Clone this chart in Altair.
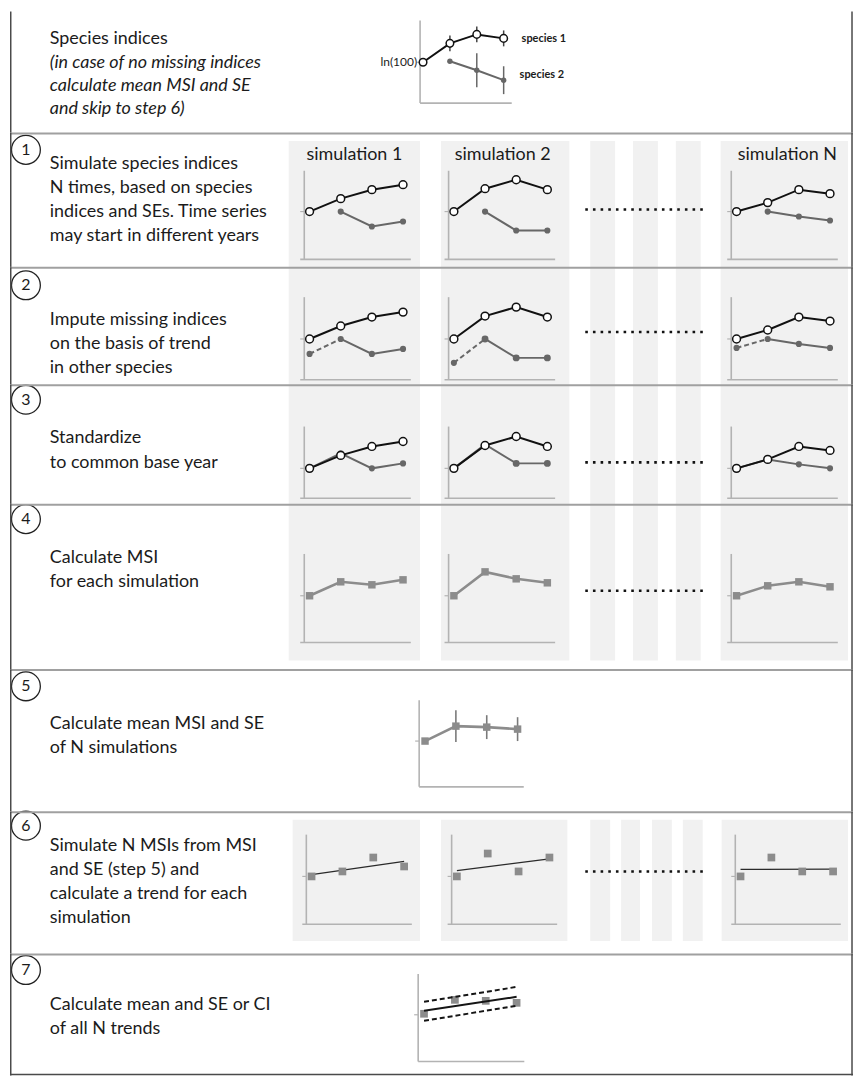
import altair as alt
import pandas as pd

FONT = "Lato"
TXT = "#1b1b1b"
SEP = "#a0a0a0"
FRAME = "#4a4a4a"
BG = "#f1f1f1"
AX = "#b3b3b3"
SP1 = "#111111"
SP2 = "#676767"
MSI = "#8c8c8c"

# ---------------- data (ln(100) = 100) ----------------
YEARS = [0, 1, 2, 3]
HDR_SP1 = [100, 119, 128, 124]
HDR_SP1_SE = [0, 8, 8, 8]
HDR_SP2_YEARS = [1, 2, 3]
HDR_SP2 = [101, 92, 82]
HDR_SP2_SE = [0, 17, 14]

SIMS = ["1", "2", "N"]
SIM_SP1 = {"1": [100, 113, 122, 127], "2": [100, 123, 132, 122], "N": [100, 109, 122, 118]}
SP2_YEARS = [1, 2, 3]
SIM_SP2 = {"1": [100, 85, 90], "2": [100, 81, 81], "N": [100, 95, 91]}
IMPUTED_SP2 = {"1": 85, "2": 76, "N": 91}
STD_SP2 = {"1": [100, 115, 100, 105], "2": [100, 124, 105, 105], "N": [100, 109, 104, 100]}
MSI_SIM = {"1": [100, 114, 111, 116], "2": [100, 124, 117, 113], "N": [100, 110, 114, 109]}
MEAN_MSI = [100, 115, 114, 112]
MEAN_MSI_SE = [0, 16, 12, 12]
SIM_MSI = {"1": [100, 105, 119, 110], "2": [100, 123, 105, 119], "N": [100, 119, 105, 105]}
FINAL_MSI = [101, 115, 114, 112]
TREND_YEARS = [0, 3]
TREND_MEAN = [104, 118]
TREND_UPPER = [113, 128]
TREND_LOWER = [94, 109]

HEADER_TEXT = ["Species indices", "(in case of no missing indices",
               "calculate mean MSI and SE", "and skip to step 6)"]
STEP_TEXT = {
    1: ["Simulate species indices", "N times, based on species",
        "indices and SEs. Time series", "may start in different years"],
    2: ["Impute missing indices", "on the basis of trend", "in other species"],
    3: ["Standardize", "to common base year"],
    4: ["Calculate MSI", "for each simulation"],
    5: ["Calculate mean MSI and SE", "of N simulations"],
    6: ["Simulate N MSIs from MSI", "and SE (step 5) and",
        "calculate a trend for each", "simulation"],
    7: ["Calculate mean and SE or CI", "of all N trends"],
}
SIM_TITLES = {"1": "simulation 1", "2": "simulation 2", "N": "simulation N"}
SPECIES_LABELS = ["species 1", "species 2"]
LN_LABEL = "ln(100)"

# ---------------- layout (page pixel geometry) ----------------
SEPS = [130, 265, 383, 503, 669, 812, 955]
BOTTOM = 1077
LEFT, RIGHT = 8, 855
CIRCLE_Y = {1: 147, 2: 283, 3: 398, 4: 518, 5: 686, 6: 826, 7: 971}
TEXT_Y = {1: 161, 2: 318, 3: 437, 4: 557, 5: 724, 6: 846, 7: 1006}
LINE_H = 24.2
FS = 18

DUMMY = pd.DataFrame({"d": [0]})


def prule(x1, x2, y1, y2, color, w, dash=None):
    kw = dict(color=color, strokeWidth=w)
    if dash:
        kw["strokeDash"] = dash
    return alt.Chart(DUMMY).mark_rule(**kw).encode(
        x=alt.value(x1), x2=alt.value(x2), y=alt.value(y1), y2=alt.value(y2))


def prect(x1, x2, y1, y2, color):
    return alt.Chart(DUMMY).mark_rect(color=color).encode(
        x=alt.value(x1), x2=alt.value(x2), y=alt.value(y1), y2=alt.value(y2))


def ptext(x, y, s, size=FS, align="left", italic=False, bold=False, color=TXT):
    kw = dict(font=FONT, fontSize=size, align=align, baseline="middle", color=color)
    if italic:
        kw["fontStyle"] = "italic"
    if bold:
        kw["fontWeight"] = "bold"
    return alt.Chart(DUMMY).mark_text(**kw).encode(
        x=alt.value(x), y=alt.value(y), text=alt.value(s))


def XE(xs, f="t"):
    return alt.X(f"{f}:Q", scale=xs, axis=None)


def YE(ys, f="v"):
    return alt.Y(f"{f}:Q", scale=ys, axis=None)


class Row:
    def __init__(self, T, B):
        self.ox, self.oy, self.w, self.h = LEFT, T, RIGHT - LEFT, B - T
        self.layers = []

    def rule(self, x1, x2, y1, y2, color, w, dash=None):
        self.layers.append(prule(x1 - self.ox, x2 - self.ox, y1 - self.oy, y2 - self.oy, color, w, dash))

    def rect(self, x1, x2, y1, y2, color=BG):
        y1 = max(y1, self.oy)
        y2 = min(y2, self.oy + self.h)
        if y2 > y1:
            self.layers.append(prect(x1 - self.ox, x2 - self.ox, y1 - self.oy, y2 - self.oy, color))

    def text(self, x, y, s, **kw):
        self.layers.append(ptext(x - self.ox, y - self.oy, s, **kw))

    def circle(self, x, y, d):
        self.layers.append(alt.Chart(DUMMY).mark_point(
            shape="circle", size=d * d, filled=False, color="#222222", strokeWidth=1.3, opacity=1
        ).encode(x=alt.value(x - self.ox), y=alt.value(y - self.oy)))

    def panel(self, x0, dx, base, vtop, vbot, builders, t_axis=-0.17, t_left=-0.3, t_right=3.25):
        # scales map the years / index values onto this panel's place in the row
        xs = alt.Scale(domain=[(self.ox - x0) / dx, (self.ox + self.w - x0) / dx], nice=False, zero=False)
        ys = alt.Scale(domain=[100 - (self.oy + self.h - base), 100 + (base - self.oy)], nice=False, zero=False)
        pl = [
            alt.Chart(pd.DataFrame({"t": [t_axis], "v": [vbot], "v2": [vtop]}))
            .mark_rule(color=AX, strokeWidth=1.6).encode(x=XE(xs), y=YE(ys), y2="v2:Q"),
            alt.Chart(pd.DataFrame({"t": [t_left], "t2": [t_right], "v": [vbot]}))
            .mark_rule(color=AX, strokeWidth=1.6).encode(x=XE(xs), x2="t2:Q", y=YE(ys)),
            alt.Chart(pd.DataFrame({"t": [t_axis - 0.13], "t2": [t_axis], "v": [100]}))
            .mark_rule(color=AX, strokeWidth=1.2).encode(x=XE(xs), x2="t2:Q", y=YE(ys)),
        ]
        for b in builders:
            pl += b(xs, ys)
        self.layers.append(alt.layer(*pl))

    def chart(self, sep=True, bottom=False):
        if sep:
            self.layers.append(prule(0, self.w, 0.5, 0.5, SEP, 2))
        if bottom:
            self.layers.append(prule(0, self.w, self.h - 1, self.h - 1, FRAME, 1.5))
        self.layers.append(prule(0.75, 0.75, 0, self.h, FRAME, 1.5))
        self.layers.append(prule(self.w - 1, self.w - 1, 0, self.h, FRAME, 1.5))
        return alt.layer(*self.layers).resolve_scale(x="independent", y="independent").properties(
            width=self.w, height=self.h)


# ---------------- series builders ----------------
def sp1(years, vals, size=62):
    def b(xs, ys):
        df = pd.DataFrame({"t": years, "v": vals})
        return [alt.Chart(df).mark_line(color=SP1, strokeWidth=2).encode(x=XE(xs), y=YE(ys)),
                alt.Chart(df).mark_point(shape="circle", filled=True, fill="white", stroke=SP1,
                                         strokeWidth=1.5, size=size, opacity=1).encode(x=XE(xs), y=YE(ys))]
    return b


def sp2(years, vals, size=38, color=SP2):
    def b(xs, ys):
        df = pd.DataFrame({"t": years, "v": vals})
        return [alt.Chart(df).mark_line(color=color, strokeWidth=2).encode(x=XE(xs), y=YE(ys)),
                alt.Chart(df).mark_circle(color=color, size=size, opacity=1).encode(x=XE(xs), y=YE(ys))]
    return b


def imputed(year0, v0, year1, v1, size=38):
    def b(xs, ys):
        df = pd.DataFrame({"t": [year0, year1], "v": [v0, v1]})
        dp = pd.DataFrame({"t": [year0], "v": [v0]})
        return [alt.Chart(df).mark_line(color=SP2, strokeWidth=2, strokeDash=[5, 3]).encode(x=XE(xs), y=YE(ys)),
                alt.Chart(dp).mark_circle(color=SP2, size=size, opacity=1).encode(x=XE(xs), y=YE(ys))]
    return b


def errbars(years, vals, se, color, w=1.5):
    def b(xs, ys):
        df = pd.DataFrame({"t": years, "v": vals, "se": se})
        return [alt.Chart(df).transform_filter("datum.se > 0")
                .transform_calculate(lo="datum.v - datum.se", hi="datum.v + datum.se")
                .mark_rule(color=color, strokeWidth=w)
                .encode(x=XE(xs), y=YE(ys, "lo"), y2="hi:Q")]
    return b


def msi_line(years, vals):
    def b(xs, ys):
        df = pd.DataFrame({"t": years, "v": vals})
        return [alt.Chart(df).mark_line(color=MSI, strokeWidth=2.6).encode(x=XE(xs), y=YE(ys)),
                alt.Chart(df).mark_square(color=MSI, size=56, opacity=1).encode(x=XE(xs), y=YE(ys))]
    return b


def squares(years, vals):
    def b(xs, ys):
        df = pd.DataFrame({"t": years, "v": vals})
        return [alt.Chart(df).mark_square(color=MSI, size=60, opacity=1).encode(x=XE(xs), y=YE(ys))]
    return b


def trend(years, vals):
    def b(xs, ys):
        df = pd.DataFrame({"t": years, "v": vals})
        return [alt.Chart(df).transform_regression("t", "v").mark_line(color="#2a2a2a", strokeWidth=1.3)
                .encode(x=XE(xs), y=YE(ys))]
    return b


def tline(years, vals, dash=None):
    def b(xs, ys):
        df = pd.DataFrame({"t": years, "v": vals})
        kw = dict(color="#151515", strokeWidth=2)
        if dash:
            kw["strokeDash"] = dash
        return [alt.Chart(df).mark_line(**kw).encode(x=XE(xs), y=YE(ys))]
    return b


def step_label(row, k):
    row.circle(24, CIRCLE_Y[k], 29)
    row.text(24, CIRCLE_Y[k], str(k), size=16, align="center")
    for i, s in enumerate(STEP_TEXT[k]):
        row.text(48, TEXT_Y[k] + i * LINE_H, s)


rows = []

# header
r = Row(8, SEPS[0])
for i, s in enumerate(HEADER_TEXT):
    r.text(48, 36 + i * 23.3, s, italic=(i > 0))
r.panel(423, 27, 59, 142, 59,
        [sp2(HDR_SP2_YEARS, HDR_SP2, size=30), errbars(HDR_SP2_YEARS, HDR_SP2, HDR_SP2_SE, SP2),
         errbars(YEARS, HDR_SP1, HDR_SP1_SE, "#444444"), sp1(YEARS, HDR_SP1, size=58)],
        t_axis=-0.11, t_left=-0.11, t_right=3.3)
r.text(417, 59, LN_LABEL, size=12, align="right")
r.text(522, 36, SPECIES_LABELS[0], size=11, bold=True)
r.text(520, 72, SPECIES_LABELS[1], size=11, bold=True)
rows.append(r.chart(sep=False))

PANEL_X0 = {"1": 309, "2": 454, "N": 738}
GRAY_X = {"1": (288, 420), "2": (441, 570), "N": (722, 850)}
STRIPES = [(591, 616), (634, 659), (677, 702)]
TITLE_X = {"1": 354, "2": 503, "N": 789}
BASE = {1: 209, 2: 337, 3: 467, 4: 595}
VTOP = {1: 141, 2: 142, 3: 142, 4: 142}
VBOT = {1: 52, 2: 59, 3: 70, 4: 53}
DOT_Y = {1: 207, 2: 330, 3: 461, 4: 590}
DX = 31.3

for k in [1, 2, 3, 4]:
    r = Row(SEPS[k - 1], SEPS[k])
    for s in SIMS:
        r.rect(GRAY_X[s][0], GRAY_X[s][1], 138, 660)
    for a, b in STRIPES:
        r.rect(a, b, 138, 660)
    step_label(r, k)
    for s in SIMS:
        if k == 1:
            r.text(TITLE_X[s], 152, SIM_TITLES[s], align="center")
            builders = [sp1(YEARS, SIM_SP1[s]), sp2(SP2_YEARS, SIM_SP2[s])]
        elif k == 2:
            builders = [imputed(0, IMPUTED_SP2[s], 1, SIM_SP2[s][0]),
                        sp1(YEARS, SIM_SP1[s]), sp2(SP2_YEARS, SIM_SP2[s], size=48 if s == "2" else 38)]
        elif k == 3:
            builders = [sp2(YEARS, STD_SP2[s], size=48 if s == "2" else 38), sp1(YEARS, SIM_SP1[s])]
        else:
            builders = [msi_line(YEARS, MSI_SIM[s])]
        r.panel(PANEL_X0[s], DX, BASE[k], VTOP[k], VBOT[k], builders)
    r.rule(586, 708, DOT_Y[k], DOT_Y[k], "#111111", 2.6, dash=[2.6, 5.1])
    rows.append(r.chart())

# step 5
r = Row(SEPS[4], SEPS[5])
step_label(r, 5)
r.panel(425, 31, 741, 141, 54,
        [errbars(YEARS, MEAN_MSI, MEAN_MSI_SE, "#7a7a7a", 1.6), msi_line(YEARS, MEAN_MSI)],
        t_axis=-0.19, t_left=-0.19, t_right=3.2)
rows.append(r.chart())

# step 6
r = Row(SEPS[5], SEPS[6])
GRAY6 = {"1": (292, 420), "2": (441, 568), "N": (723, 850)}
PANEL6_X0 = {"1": 311, "2": 457, "N": 742}
for s in SIMS:
    r.rect(GRAY6[s][0], GRAY6[s][1], 820, 942)
for a, b in [(591, 611), (622, 641), (653, 673), (684, 704)]:
    r.rect(a, b, 820, 942)
step_label(r, 6)
for s in SIMS:
    r.panel(PANEL6_X0[s], 31, 877, 142, 52, [trend(YEARS, SIM_MSI[s]), squares(YEARS, SIM_MSI[s])])
r.rule(586, 708, 872, 872, "#111111", 2.6, dash=[2.6, 5.1])
rows.append(r.chart())

# step 7
r = Row(SEPS[6], BOTTOM)
step_label(r, 7)
r.panel(424, 31, 1016, 141, 53,
        [squares(YEARS, FINAL_MSI), tline(TREND_YEARS, TREND_MEAN),
         tline(TREND_YEARS, TREND_UPPER, dash=[5, 3]), tline(TREND_YEARS, TREND_LOWER, dash=[5, 3])],
        t_axis=-0.19, t_left=-0.19, t_right=3.25)
rows.append(r.chart(bottom=True))

chart = alt.vconcat(*rows, spacing=0, bounds="flush", padding=0).configure_view(stroke=None)
chart.save("out.html", embed_options={"renderer": "svg", "actions": False})
